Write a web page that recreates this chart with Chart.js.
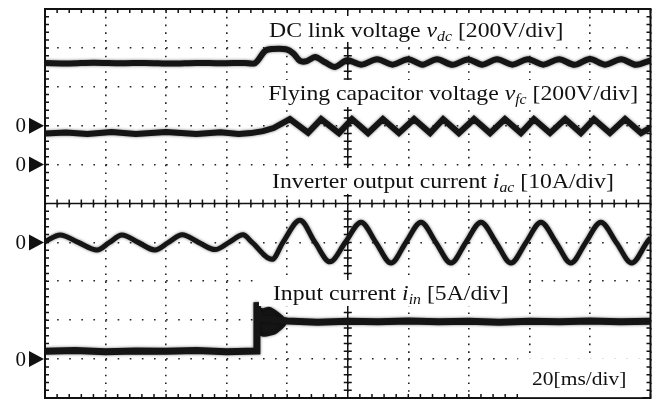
<!DOCTYPE html>
<html>
<head>
<meta charset="utf-8">
<script src="https://cdn.jsdelivr.net/npm/chart.js@4.4.1/dist/chart.umd.min.js"></script>
<style>
  html, body { margin: 0; padding: 0; background: #fff; }
  #wrap { width: 658px; height: 401px; }
</style>
</head>
<body>
<div id="wrap"><canvas id="scope" width="658" height="401"></canvas></div>
<script>
// time in ms (20 ms/div, 10 div), values in physical units
const vdcPoints = [
  [0, 322], [8, 320], [16, 324], [25, 321], [33, 323], [42, 320], [50, 323], [58, 321], [66, 323],
  [69.4, 322], [72.7, 385], [75, 394], [79.6, 393], [82, 372], [84.2, 333], [86.5, 332], [89.2, 353],
  [92.5, 326], [95.8, 302], [99.8, 336], [104.6, 314], [109.7, 342], [114.8, 314], [119.9, 342],
  [124.7, 314], [129.5, 342], [134.6, 313], [139.7, 341], [144.5, 314], [149.3, 342], [154.4, 314],
  [159.5, 342], [164.6, 314], [169.8, 342], [174.9, 313], [180, 343], [185.1, 314], [190.3, 342],
  [195.2, 313], [200, 336],
];
const vfcPoints = [
  [0, 160], [7, 165], [14, 157], [22, 167], [30, 158], [40, 168], [50, 158], [58, 166], [64, 157],
  [68, 162], [72, 172], [75.5, 188], [80.9, 234], [86.9, 164], [91.2, 234],
  [97.1, 162], [101.4, 234], [106.7, 162], [111.6, 234], [116.9, 162], [121.9, 234], [127.2, 162],
  [131.5, 234], [136.7, 162], [141.7, 234], [147, 162], [151.9, 234], [157.2, 162], [161.5, 234],
  [166.8, 162], [171.8, 234], [177, 162], [181.3, 234], [186.6, 162], [191.6, 234], [196.9, 162],
  [200, 190],
];
const iacPoints = [
  [0, 0.2], [5, 1.9], [11, 0], [17.2, -1.95], [21.3, 0], [25.4, 1.9], [30.8, 0], [36.3, -1.95],
  [40.8, 0], [45.3, 1.95], [50.7, 0], [56.2, -1.85], [60.8, 0], [65.4, 1.95], [68.4, 0], [75, -4.35],
  [78.6, 0], [84.2, 5.7], [89.2, 0], [94.1, -5.0], [99.2, 0], [104.4, 5.2], [109.3, 0], [114.3, -5.3],
  [119.2, 0], [124.2, 5.2], [129.1, 0], [134.1, -5.3], [139, 0], [144, 5.2], [149, 0], [153.9, -5.3],
  [158.9, 0], [163.8, 5.2], [168.8, 0], [173.7, -5.3], [178.6, 0], [183.6, 5.2], [188.7, 0],
  [193.8, -5.3], [198.8, 0], [200, 1.2],
];
const iinPoints = [
  [0, 1.0], [10, 1.1], [20, 0.95], [30, 1.05], [40, 1.0], [50, 1.1], [60, 0.95], [69.9, 1.05],
  [70.0, 7.3], [70.5, 5.3], [80, 4.9], [90, 4.75], [100, 4.85], [110, 4.8], [120, 4.9], [130, 4.8],
  [140, 4.85], [150, 4.75], [160, 4.85], [170, 4.8], [180, 4.9], [190, 4.8], [200, 4.85],
];
const iinBurstHigh = [[70.3, 6.5], [72, 6.4], [74, 6.6], [76, 6.2], [78, 5.6], [79.5, 5.0]];
const iinBurstLow = [[70.3, 3.3], [72, 3.0], [74, 3.1], [76, 3.3], [78, 3.9], [79.5, 4.5]];

const labelTexts = [
  ["DC link voltage ", ["v", "dc"], " [200V/div]"],
  ["Flying capacitor voltage ", ["v", "fc"], " [200V/div]"],
  ["Inverter output current ", ["i", "ac"], " [10A/div]"],
  ["Input current ", ["i", "in"], " [5A/div]"],
  ["20[ms/div]"],
];

function toXY(points) {
  return points.map(([x, y]) => ({ x: x, y: y }));
}

function trace(label, points, axis, width, extra) {
  return Object.assign({
    label: label,
    data: toXY(points),
    yAxisID: axis,
    borderColor: "#151515",
    backgroundColor: "#151515",
    borderWidth: width,
    pointRadius: 0,
    fill: false,
  }, extra || {});
}

const SERIF = '"Liberation Serif", "Times New Roman", serif';
const STRETCH = 1.13;

function drawLabel(ctx, parts, x, y, size, pad) {
  const pieces = [];
  parts.forEach((p) => {
    if (typeof p === "string") {
      pieces.push({ text: p, font: `${size}px ${SERIF}`, dy: 0 });
    } else {
      pieces.push({ text: p[0], font: `italic ${size}px ${SERIF}`, dy: 0 });
      pieces.push({ text: p[1], font: `italic ${Math.round(size * 0.68)}px ${SERIF}`, dy: 4 });
    }
  });
  let w = 0;
  pieces.forEach((p) => {
    ctx.font = p.font;
    p.w = ctx.measureText(p.text).width;
    w += p.w;
  });
  ctx.fillStyle = "#fff";
  ctx.fillRect(x - pad[0], y - pad[1], w * STRETCH + pad[0] + pad[2], pad[1] + pad[3]);
  ctx.save();
  ctx.translate(x, y);
  ctx.scale(STRETCH, 1);
  ctx.fillStyle = "#111";
  ctx.textBaseline = "alphabetic";
  let cx = 0;
  pieces.forEach((p) => {
    ctx.font = p.font;
    ctx.fillText(p.text, cx, p.dy);
    cx += p.w;
  });
  ctx.restore();
}

const scopeFrame = {
  id: "scopeFrame",
  beforeDatasetsDraw(chart) {
    const { ctx, chartArea: a, scales } = chart;
    const xs = scales.x, ys = scales.y;
    const cx = xs.getPixelForValue(100), cy = ys.getPixelForValue(5);
    ctx.save();
    ctx.strokeStyle = "#111";
    ctx.lineWidth = 1.5;
    ctx.beginPath();
    ctx.moveTo(cx, a.top); ctx.lineTo(cx, a.bottom);
    ctx.moveTo(a.left, cy); ctx.lineTo(a.right, cy);
    for (let i = 0; i <= 50; i++) {
      const px = xs.getPixelForValue(i * 4);
      ctx.moveTo(px, a.top); ctx.lineTo(px, a.top + 4);
      ctx.moveTo(px, a.bottom); ctx.lineTo(px, a.bottom - 4);
      ctx.moveTo(px, cy - 4); ctx.lineTo(px, cy + 4);
      const py = ys.getPixelForValue(i / 5);
      ctx.moveTo(a.left, py); ctx.lineTo(a.left + 4, py);
      ctx.moveTo(a.right, py); ctx.lineTo(a.right - 4, py);
      ctx.moveTo(cx - 4, py); ctx.lineTo(cx + 4, py);
    }
    ctx.stroke();
    ctx.lineWidth = 2;
    ctx.strokeRect(a.left, a.top, a.width, a.height);
    ctx.restore();
  },
  // soft halo so the traces look like noisy scope captures
  beforeDatasetDraw(chart) {
    chart.ctx.save();
    chart.ctx.shadowColor = "rgba(0,0,0,0.55)";
    chart.ctx.shadowBlur = 3;
  },
  afterDatasetDraw(chart) {
    chart.ctx.restore();
  },
  afterDatasetsDraw(chart, args, opts) {
    const { ctx, scales } = chart;
    const xs = scales.x, ys = scales.y;
    ctx.save();
    opts.labels.forEach((l, i) => {
      drawLabel(ctx, labelTexts[i], xs.getPixelForValue(l.t), ys.getPixelForValue(l.d), l.size, l.pad);
    });
    // channel zero markers
    const left = chart.chartArea.left;
    ["yVdc", "yVfc", "yIac", "yIin"].forEach((id) => {
      const y0 = scales[id].getPixelForValue(0);
      ctx.fillStyle = "#111";
      ctx.beginPath();
      ctx.moveTo(left - 16, y0 - 8);
      ctx.lineTo(left - 1, y0);
      ctx.lineTo(left - 16, y0 + 8);
      ctx.closePath();
      ctx.fill();
      ctx.font = `21px ${SERIF}`;
      ctx.textBaseline = "middle";
      ctx.textAlign = "right";
      ctx.fillText("0", left - 19, y0 + 1);
      ctx.textAlign = "left";
      ctx.textBaseline = "alphabetic";
    });
    ctx.restore();
  },
};

const hidden = (min, max) => ({ type: "linear", display: false, min: min, max: max });

new Chart(document.getElementById("scope"), {
  type: "line",
  data: {
    datasets: [
      trace("vdc", vdcPoints, "yVdc", 6, { tension: 0.3 }),
      trace("vfc", vfcPoints, "yVfc", 6, { tension: 0 }),
      trace("iac", iacPoints, "yIac", 5, { cubicInterpolationMode: "monotone" }),
      trace("iin", iinPoints, "yIin", 7, { tension: 0 }),
      trace("iin burst hi", iinBurstHigh, "yIin", 2, { tension: 0.3 }),
      trace("iin burst lo", iinBurstLow, "yIin", 2, { tension: 0.3, fill: "-1" }),
    ],
  },
  options: {
    responsive: false,
    animation: false,
    layout: { padding: { left: 45, right: 7.5, top: 9, bottom: 3 } },
    scales: {
      x: {
        type: "linear", min: 0, max: 200,
        ticks: { stepSize: 20, display: false },
        grid: { color: "#222", lineWidth: 1.6, drawTicks: false },
        border: { display: false, dash: [1.6, 6.18] },
        afterFit: (s) => { s.height = 0; },
      },
      y: {
        type: "linear", min: 0, max: 10,
        ticks: { stepSize: 1, display: false },
        grid: { color: "#222", lineWidth: 1.6, drawTicks: false },
        border: { display: false, dash: [1.6, 10.51] },
        afterFit: (s) => { s.width = 0; },
      },
      yVdc: hidden(-1400, 600),   // 200 V/div
      yVfc: hidden(-1200, 800),   // 200 V/div
      yIac: hidden(-40, 60),      // 10 A/div
      yIin: hidden(-5, 45),       // 5 A/div
    },
    plugins: {
      legend: { display: false },
      tooltip: { enabled: false },
      scopeFrame: {
        labels: [
          { t: 74.0, d: 9.28, size: 21, pad: [4, 21, 4, 5] },
          { t: 73.7, d: 7.66, size: 21, pad: [4, 20, 4, 7] },
          { t: 75.0, d: 5.40, size: 21, pad: [4, 20, 4, 6] },
          { t: 75.3, d: 2.52, size: 21, pad: [14, 20, 18, 6] },
          { t: 160.9, d: 0.33, size: 19, pad: [14, 27, 16, 12] },
        ],
      },
    },
  },
  plugins: [scopeFrame],
});
</script>
</body>
</html>
